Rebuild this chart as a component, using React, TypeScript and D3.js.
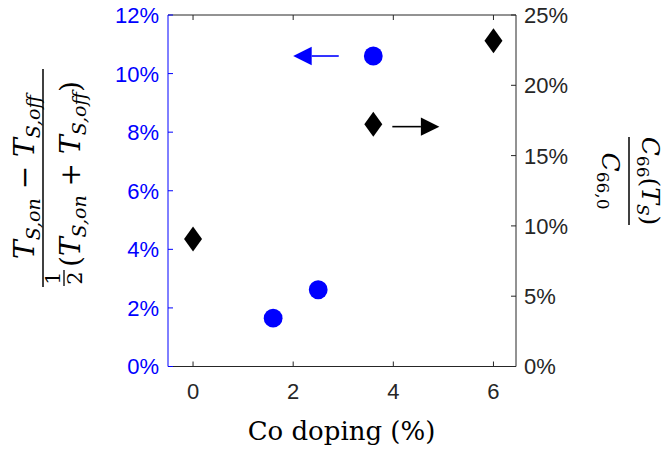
import React from "react";
import * as d3 from "d3";

const W = 664;
const H = 449;

// Data
const circleDoping = [1.6, 2.5, 3.6];
const circleValues = [0.0165, 0.0262, 0.106];
const diamondDoping = [0, 3.6, 6];
const diamondValues = [0.0907, 0.1723, 0.2317];

const xTicks = [0, 2, 4, 6];
const leftTicks = [0, 0.02, 0.04, 0.06, 0.08, 0.1, 0.12];
const rightTicks = [0, 0.05, 0.1, 0.15, 0.2, 0.25];

// annotation arrows (data coords)
const blueArrow = { from: 2.91, to: 2.0, y: 0.106 };
const blackArrow = { from: 3.98, to: 4.92, y: 0.1706 };

const BLUE = "#0000ff";
const AX = "#262626";
const SANS = "'Liberation Sans', Arial, sans-serif";
const SERIF = "'DejaVu Serif', serif";

export default function App() {
  const L = 168, R = 516, T = 15, B = 366.5;
  const x = d3.scaleLinear().domain([-0.5, 6.45]).range([L, R]);
  const yL = d3.scaleLinear().domain([0, 0.12]).range([B, T]);
  const yR = d3.scaleLinear().domain([0, 0.25]).range([B, T]);
  const pct = d3.format(".0%");
  const tl = 5;

  const diamond = (cx: number, cy: number) =>
    `M${cx},${cy - 12.5}L${cx + 9},${cy}L${cx},${cy + 12.5}L${cx - 9},${cy}Z`;

  const arrow = (x0: number, x1: number, y: number, color: string) => {
    const dir = x1 > x0 ? 1 : -1;
    const hl = 18.5;
    const hw = 9.2;
    const base = x1 - dir * hl;
    return (
      <g>
        <line x1={x0} x2={base} y1={y} y2={y} stroke={color} strokeWidth={1.6} />
        <path d={`M${x1},${y}L${base},${y - hw}L${base},${y + hw}Z`} fill={color} />
      </g>
    );
  };

  const subSize = 19;
  const mainSize = 28;

  return (
    <svg
      width={W}
      height={H}
      style={{ position: "absolute", left: 0, top: 0, background: "#fff" }}
    >
      <rect x={0} y={0} width={W} height={H} fill="#fff" />
      {/* box */}
      <line x1={L} x2={R} y1={T} y2={T} stroke={AX} strokeWidth={1} />
      <line x1={L} x2={R} y1={B} y2={B} stroke={AX} strokeWidth={1} />
      <line x1={R} x2={R} y1={T} y2={B} stroke={AX} strokeWidth={1} />
      <line x1={L} x2={L} y1={T} y2={B} stroke={BLUE} strokeWidth={1} />

      {/* x ticks */}
      {xTicks.map((t) => (
        <g key={"x" + t}>
          <line x1={x(t)} x2={x(t)} y1={B} y2={B - tl} stroke={AX} />
          <line x1={x(t)} x2={x(t)} y1={T} y2={T + tl} stroke={AX} />
          <text
            x={x(t)}
            y={399}
            textAnchor="middle"
            fontFamily={SANS}
            fontSize={22}
            fill={AX}
          >
            {t}
          </text>
        </g>
      ))}

      {/* left ticks */}
      {leftTicks.map((t) => (
        <g key={"l" + t}>
          <line x1={L} x2={L + tl} y1={yL(t)} y2={yL(t)} stroke={BLUE} />
          <text
            x={159}
            y={yL(t)}
            dy="0.36em"
            textAnchor="end"
            fontFamily={SANS}
            fontSize={22}
            fill={BLUE}
          >
            {pct(t)}
          </text>
        </g>
      ))}

      {/* right ticks */}
      {rightTicks.map((t) => (
        <g key={"r" + t}>
          <line x1={R} x2={R - tl} y1={yR(t)} y2={yR(t)} stroke={AX} />
          <text
            x={524}
            y={yR(t)}
            dy="0.36em"
            textAnchor="start"
            fontFamily={SANS}
            fontSize={22}
            fill={AX}
          >
            {pct(t)}
          </text>
        </g>
      ))}

      {/* data */}
      {circleDoping.map((d, i) => (
        <circle key={"c" + i} cx={x(d)} cy={yL(circleValues[i])} r={9.4} fill={BLUE} />
      ))}
      {diamondDoping.map((d, i) => (
        <path key={"d" + i} d={diamond(x(d), yR(diamondValues[i]))} fill="#000" />
      ))}

      {arrow(x(blueArrow.from), x(blueArrow.to), yL(blueArrow.y), BLUE)}
      {arrow(x(blackArrow.from), x(blackArrow.to), yR(blackArrow.y), "#000")}

      {/* x label */}
      <text
        x={(L + R) / 2 - 0.5}
        y={440}
        textAnchor="middle"
        fontFamily={SERIF}
        fontSize={26}
        fill="#000"
      >
        Co doping (%)
      </text>

      {/* left label */}
      <g transform="translate(43,177) rotate(-90)" fontFamily={SERIF} fill="#000">
        <line x1={-110} x2={108} y1={0} y2={0} stroke="#000" strokeWidth={1.5} />
        <text x={0} y={-9} textAnchor="middle" fontSize={mainSize}>
          <tspan fontStyle="italic">T</tspan>
          <tspan fontSize={subSize} dy={6} fontStyle="italic">S,on</tspan>
          <tspan dy={-6}>{" \u2212 "}</tspan>
          <tspan fontStyle="italic">T</tspan>
          <tspan fontSize={subSize} dy={6} fontStyle="italic">S,off</tspan>
        </text>
        <text x={-101} y={17} textAnchor="middle" fontSize={21}>1</text>
        <line x1={-109} x2={-93} y1={21} y2={21} stroke="#000" strokeWidth={1.3} />
        <text x={-101} y={39} textAnchor="middle" fontSize={21}>2</text>
        <text x={-90} y={37} textAnchor="start" fontSize={mainSize}>
          <tspan>(</tspan>
          <tspan fontStyle="italic">T</tspan>
          <tspan fontSize={subSize} dy={6} fontStyle="italic">S,on</tspan>
          <tspan dy={-6}>{" + "}</tspan>
          <tspan fontStyle="italic">T</tspan>
          <tspan fontSize={subSize} dy={6} fontStyle="italic">S,off</tspan>
          <tspan dy={-6}>)</tspan>
        </text>
      </g>

      {/* right label */}
      <g transform="translate(629,181) rotate(90)" fontFamily={SERIF} fill="#000">
        <line x1={-44} x2={44} y1={0} y2={0} stroke="#000" strokeWidth={1.5} />
        <text x={0} y={-13} textAnchor="middle" fontSize={25}>
          <tspan fontStyle="italic">C</tspan>
          <tspan fontSize={17} dy={5}>66</tspan>
          <tspan dy={-5}>(</tspan>
          <tspan fontStyle="italic">T</tspan>
          <tspan fontSize={17} dy={5} fontStyle="italic">S</tspan>
          <tspan dy={-5}>)</tspan>
        </text>
        <text x={0} y={27} textAnchor="middle" fontSize={25}>
          <tspan fontStyle="italic">C</tspan>
          <tspan fontSize={17} dy={5}>66,0</tspan>
        </text>
      </g>
    </svg>
  );
}
